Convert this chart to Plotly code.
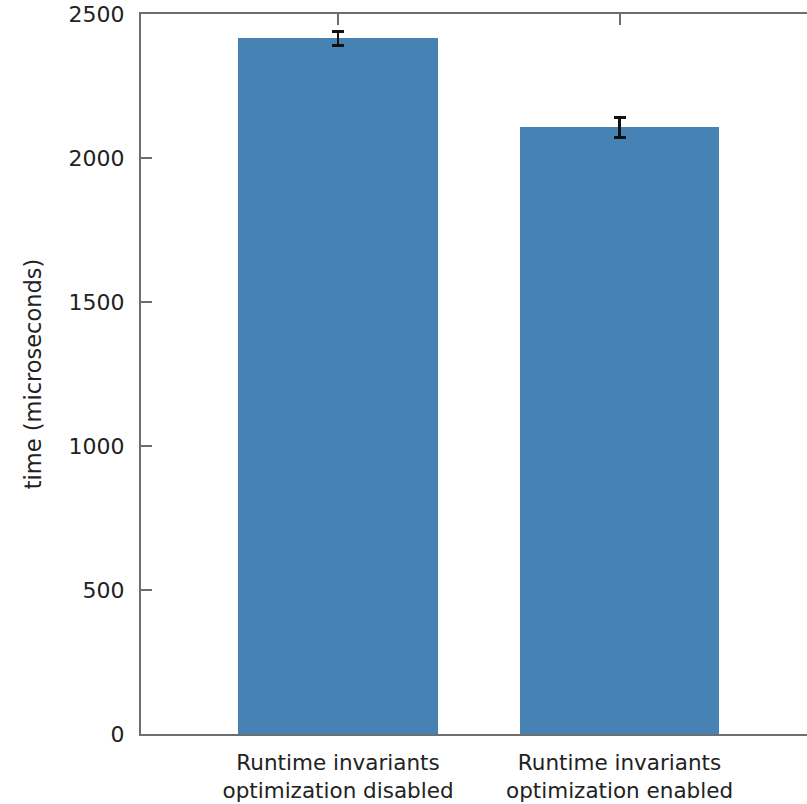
import plotly.graph_objects as go

# Benchmark: runtime with and without the runtime-invariants optimization
categories = ["Runtime invariants<br>optimization disabled",
              "Runtime invariants<br>optimization enabled"]
positions = [0, 1]
mean_time_us = [2415, 2106]
error_us = [25, 35]

y_ticks = [0, 500, 1000, 1500, 2000, 2500]

FONT = "DejaVu Sans"
AXIS_GRAY = "#6e6e6e"
TEXT = "#222222"

fig = go.Figure()
fig.add_trace(go.Bar(
    x=positions,
    y=mean_time_us,
    width=0.71,
    marker=dict(color="#4682b4", line=dict(width=0)),
    error_y=dict(type="data", array=error_us, visible=True,
                 color="#111111", thickness=2.5, width=6),
    showlegend=False,
))

fig.update_layout(
    width=830,
    height=804,
    margin=dict(l=141, r=12, t=14, b=70),
    paper_bgcolor="white",
    plot_bgcolor="white",
    font=dict(family=FONT, size=21, color=TEXT),
    bargap=0,
)

fig.update_xaxes(
    range=[-0.7, 1.705],
    tickmode="array",
    tickvals=positions,
    ticktext=categories,
    ticks="inside",
    ticklen=11,
    tickcolor=AXIS_GRAY,
    tickwidth=1.5,
    ticklabelstandoff=8,
    showline=True,
    linecolor=AXIS_GRAY,
    linewidth=2,
    mirror="ticks",
    showgrid=False,
    zeroline=False,
    automargin=False,
    layer="below traces",
    tickfont=dict(family=FONT, size=21.5, color=TEXT),
)

fig.update_yaxes(
    range=[0, 2500],
    tickmode="array",
    tickvals=y_ticks,
    ticktext=[str(v) for v in y_ticks],
    ticks="inside",
    ticklen=11,
    tickcolor=AXIS_GRAY,
    tickwidth=1.5,
    ticklabelstandoff=10,
    showline=True,
    linecolor=AXIS_GRAY,
    linewidth=2,
    mirror="ticks",
    showgrid=False,
    zeroline=False,
    automargin=False,
    title=dict(text="time (microseconds)", standoff=21,
               font=dict(family=FONT, size=22.5, color=TEXT)),
    tickfont=dict(family=FONT, size=22, color=TEXT),
)

fig.write_html(
    "out.html",
    post_script="document.body.style.margin='0';document.body.style.overflow='hidden';",
)
